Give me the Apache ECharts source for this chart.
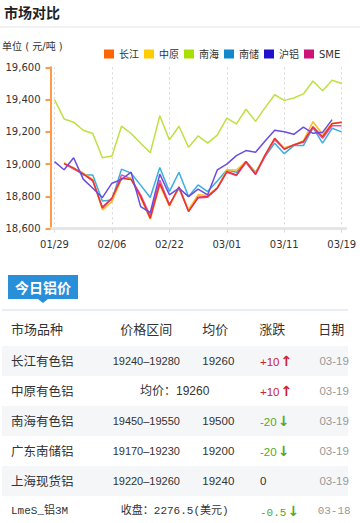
<!DOCTYPE html>
<html>
<head>
<meta charset="utf-8">
<script src="https://cdn.jsdelivr.net/npm/echarts@6/dist/echarts.min.js"></script>
<style>
  body{margin:0;width:360px;height:523px;position:relative;background:#fff;overflow:hidden;font-family:"Liberation Sans","Noto Sans CJK SC",sans-serif;}
  .abs{position:absolute;white-space:nowrap;}
  .cell{position:absolute;white-space:nowrap;line-height:20px;height:20px;}
</style>
</head>
<body>
<div id="chart" class="abs" style="left:0;top:0;width:360px;height:270px;"></div>
<div class="abs" style="left:4px;top:2px;font-weight:bold;font-size:14px;line-height:20px;color:#222;font-family:'Noto Sans CJK SC';">市场对比</div>
<div class="abs" style="left:0;top:26px;width:360px;height:2px;background:#f2f2f2;"></div>
<div class="abs" style="left:2px;top:40px;font-size:10px;line-height:13px;color:#333;font-family:'DejaVu Sans','Noto Sans CJK SC';">单位 ( 元/吨 )</div>

<div class="abs" style="left:8px;top:275px;width:70px;height:24px;background:#2a8fd9;color:#fff;font-weight:bold;font-size:14px;line-height:24px;text-align:center;font-family:'Noto Sans CJK SC';">今日铝价</div>
<div class="abs" style="left:38px;top:299px;width:0;height:0;border-left:5px solid transparent;border-right:5px solid transparent;border-top:4px solid #2a8fd9;"></div>
<div class="abs" style="left:2px;top:309px;width:346px;height:2px;background:#e9eef4;"></div>
<div id="table"></div>

<script>
// ---- chart data ----
const categories = ['01/29','01/30','01/31','02/01','02/02','02/05','02/06','02/07','02/08','02/09','02/12','02/13','02/22','02/23','02/24','02/26','02/27','02/28','03/01','03/02','03/05','03/06','03/07','03/08','03/11','03/12','03/13','03/14','03/15','03/18','03/19'];
const seriesNames = ['长江','中原','南海','南储','沪铝','SME'];
const changjiang = [null,19003,18975,18940,18900,18728,18790,18913,18905,18800,18665,18880,18745,18860,18706,18795,18800,18851,18954,18933,19016,18938,19057,19160,19092,19119,19140,19232,19170,19250,19260];
const zhongyuan  = [null,19010,18975,18945,18905,18717,18768,18909,18913,18790,18659,18870,18740,18855,18720,18810,18805,18855,18964,18964,19016,18945,19057,19160,19102,19119,19145,19263,19185,19253,19260];
const nanhai     = [19400,19280,19260,19210,19190,19040,19050,19235,19190,19130,19070,19300,19150,19235,19105,19175,19130,19180,19285,19250,19340,19265,19350,19430,19395,19410,19435,19515,19455,19520,19500];
const nanchu     = [null,19005,18975,18933,18933,18772,18778,18969,18944,18870,18793,18979,18830,18950,18799,18871,18830,18896,18964,18950,19016,18950,19047,19130,19065,19115,19115,19226,19130,19222,19200];
const hulv       = [19016,18965,19040,18907,18851,18793,18882,18905,18950,18737,18700,18938,18810,18851,18799,18845,18810,18964,19000,19053,19084,19074,19144,19210,19201,19185,19229,19191,19197,19276,null];
const sme        = [null,19005,18970,18940,18895,18735,18785,18933,18910,18810,18680,18900,18750,18850,18710,18790,18795,18850,18950,18930,19010,18935,19050,19150,19095,19120,19135,19225,19160,19238,19238];
const yTicks = [18600,18800,19000,19200,19400,19600];

const legendColors = {'长江':'#ff6600','中原':'#ffcc00','南海':'#aadd00','南储':'#1188cc','沪铝':'#2211cc','SME':'#cc1177'};
const lineColors   = {'长江':'#e8303c','中原':'#ffbb22','南海':'#bfe040','南储':'#3aaee0','沪铝':'#6a4de0','SME':'#e055aa'};
const seriesData   = {'长江':changjiang,'中原':zhongyuan,'南海':nanhai,'南储':nanchu,'沪铝':hulv,'SME':sme};
const drawOrder = ['南海','南储','SME','中原','长江','沪铝'];

// ---- table data ----
const headers = ['市场品种','价格区间','均价','涨跌','日期'];
const rowNames = ['长江有色铝','中原有色铝','南海有色铝','广东南储铝','上海现货铝','LmeS_铝3M'];
const priceRanges = ['19240–19280',null,'19450–19550','19170–19230','19220–19260',null];
const avgPrices = ['19260',null,'19500','19200','19240',null];
const mergedText = [null,'均价：19260',null,null,null,'收盘：2276.5(美元)'];
const changes = ['+10','+10','-20','-20','0','-0.5'];
const dates = ['03-19','03-19','03-19','03-19','03-19','03-18'];

const chart = echarts.init(document.getElementById('chart'), null, {renderer:'svg'});
const fmt = v => String(v).replace(/\B(?=(\d{3})+(?!\d))/g, ',');
chart.setOption({
  animation:false,
  legend:{
    left:99, top:44, itemWidth:10, itemHeight:9, itemGap:5, icon:'rect',
    textStyle:{fontSize:10,color:'#333',fontFamily:'DejaVu Sans, Noto Sans CJK SC'},
    data: seriesNames.map(n=>({name:n, icon:'rect', itemStyle:{color:legendColors[n]}}))
  },
  grid:[
    {left:54.5,right:18.3,top:67.3,bottom:41.3},
    {left:51,right:14.3,top:67.3,bottom:41.3}
  ],
  xAxis:[
    {type:'category',data:categories,boundaryGap:false,
     axisLine:{show:false},
     axisTick:{show:true,interval:5,length:4,lineStyle:{color:'#dcdcdc'}},
     axisLabel:{interval:5,margin:11,fontSize:10,color:'#333',fontFamily:'DejaVu Sans'},
     splitLine:{show:true,interval:5,lineStyle:{color:'#d6d6d6',type:[2,3],width:1}}},
    {type:'value',gridIndex:1,min:0,max:1,
     axisLine:{show:true,onZero:false,lineStyle:{color:'#e6e6e6',width:3}},
     axisTick:{show:false},axisLabel:{show:false},splitLine:{show:false}}
  ],
  yAxis:[
    {type:'value',min:yTicks[0],max:yTicks[yTicks.length-1],interval:yTicks[1]-yTicks[0],offset:4,
     axisLine:{show:true,lineStyle:{color:'#ff9a4a',width:2}},
     axisTick:{show:true,length:5,lineStyle:{color:'#ff9a4a',width:2}},
     axisLabel:{margin:10,fontSize:10,color:'#333',fontFamily:'DejaVu Sans',formatter:fmt},
     splitLine:{show:false}},
    {type:'value',gridIndex:1,min:0,max:1,show:false}
  ],
  series: drawOrder.map(n=>({
    name:n,type:'line',data:seriesData[n],symbol:'none',showSymbol:false,
    connectNulls:false,
    itemStyle:{color:legendColors[n]},
    lineStyle:{width:1.5,color:lineColors[n]},
    emphasis:{disabled:true}
  }))
});

// ---- table ----
const tbl = document.getElementById('table');
function cell(text, x, yc, opts){
  const d = document.createElement('div');
  d.className='cell';
  d.textContent = text;
  d.style.top = (yc-10)+'px';
  if (opts.align==='center'){ d.style.left=(x-70)+'px'; d.style.width='140px'; d.style.textAlign='center'; }
  else d.style.left = x+'px';
  d.style.fontSize = (opts.size||12)+'px';
  d.style.color = opts.color||'#333';
  if (opts.family) d.style.fontFamily = opts.family;
  if (opts.weight) d.style.fontWeight = opts.weight;
  tbl.appendChild(d);
  return d;
}
// header
const hy = 329.3;
cell(headers[0],11,hy,{size:13,color:'#333',family:"'Noto Sans CJK SC'"});
cell(headers[1],146.3,hy,{size:13,color:'#333',align:'center',family:"'Noto Sans CJK SC'"});
cell(headers[2],202.3,hy,{size:13,color:'#333',family:"'Noto Sans CJK SC'"});
cell(headers[3],259.3,hy,{size:13,color:'#333',family:"'Noto Sans CJK SC'"});
cell(headers[4],318.3,hy,{size:13,color:'#333',family:"'Noto Sans CJK SC'"});
// rows
rowNames.forEach((name,i)=>{
  const top = 346 + 30*i, yc = top+15;
  if (i%2===0){
    const bg=document.createElement('div');
    bg.className='abs';
    bg.style.cssText='left:2px;width:346px;height:30px;background:#f5f6f8;top:'+top+'px';
    tbl.appendChild(bg);
  }
  const mono = (i===5);
  const monoFam = "'Liberation Mono','Noto Sans CJK SC'";
  cell(name,11,yc,{size:mono?11:12.5,color:'#333',family:mono?monoFam:"'Noto Sans CJK SC'"});
  if (mergedText[i]) cell(mergedText[i],174.7,yc,{size:mono?11:12,color:'#333',align:'center',family:mono?monoFam:"'Liberation Sans','Noto Sans CJK SC'"});
  else {
    cell(priceRanges[i],146.3,yc,{size:11,color:'#333',align:'center'});
    cell(avgPrices[i],202.3,yc,{size:11.5,color:'#333'});
  }
  const ch = changes[i];
  const up = ch.startsWith('+'), down = ch.startsWith('-');
  const col = up ? '#cc2233' : (down ? '#55aa22' : '#333');
  const c = cell(ch,260,yc,{size:mono?11:11.5,color:col,family:mono?monoFam:"'Liberation Sans','DejaVu Sans'"});
  if (up || down){
    const a = document.createElement('span');
    a.textContent = up ? '↑' : '↓';
    a.style.cssText = "font-family:'DejaVu Sans';font-size:14px;font-weight:bold;margin-left:1px;";
    c.appendChild(a);
  }
  cell(dates[i],334.2,yc,{size:mono?11:11.5,color:'#999',align:'center',family:mono?monoFam:"'Liberation Sans'"});
});
</script>
</body>
</html>
